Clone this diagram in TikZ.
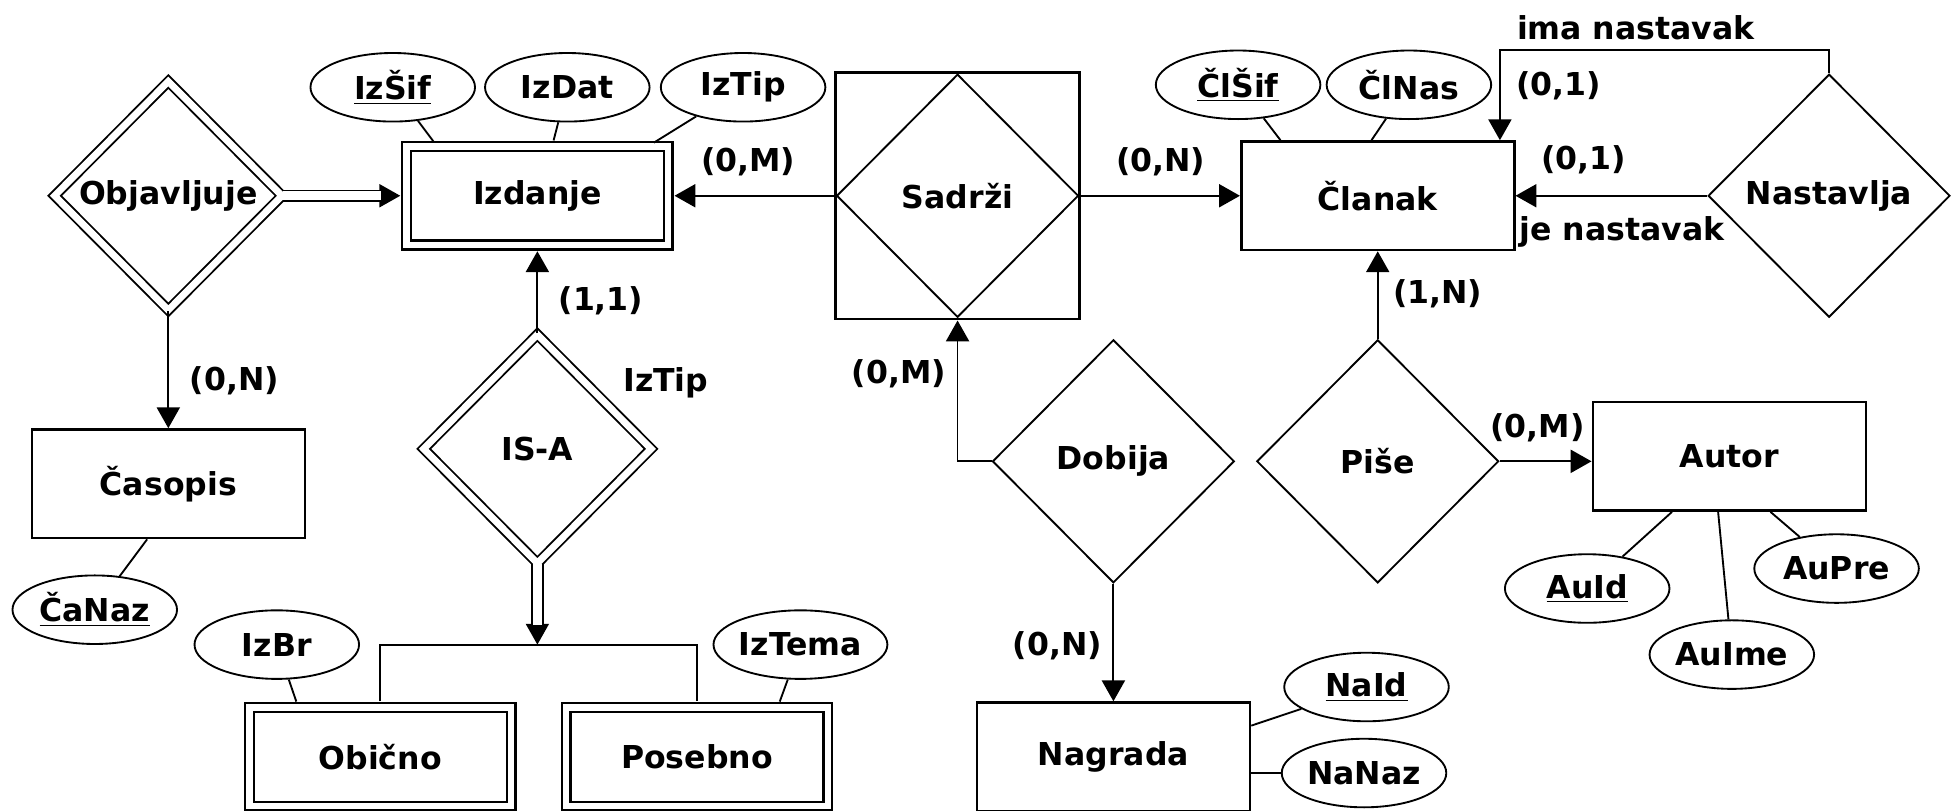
\documentclass[tikz,border=0pt]{standalone}
\usepackage{fontspec}
\setmainfont{DejaVu Sans}
\usetikzlibrary{arrows.meta, shapes.geometric}

\begin{document}
\begin{tikzpicture}[x=0.02cm, y=-0.02cm]
	\tikzstyle{every node} = [font=\bfseries\fontsize{14.4}{17}\selectfont]
	\tikzstyle{Entity} = [rectangle, minimum width=4.38cm, minimum height=1.74cm, line width=1.2pt, draw=black]
	\tikzstyle{Weak} = [rectangle, minimum width=4.2cm, minimum height=1.58cm, line width=1.1pt, draw=black, double, double distance=0.1cm]
	\tikzstyle{Attr} = [ellipse, minimum width=2.64cm, minimum height=1.1cm, inner sep=0pt, line width=0.85pt, draw=black]
	\tikzstyle{Rel} = [diamond, minimum width=3.88cm, minimum height=3.9cm, inner sep=0pt, line width=0.85pt, draw=black]
	\tikzstyle{WeakRel} = [Rel, minimum width=3.66cm, minimum height=3.68cm, double, double distance=0.11cm]
	\tikzstyle{attrline} = [line width=0.85pt]
	\tikzstyle{arrow} = [line width=0.85pt, -{Triangle[length=9.5pt, width=10.5pt]}]
	\tikzstyle{dbl} = [line width=0.85pt, double, double distance=4pt]

	\useasboundingbox (0,0) rectangle (1568,650);

	% entitete i veze
	\node (obj) [WeakRel] at (135,157) {Objavljuje};
	\node (izd) [Weak] at (431,157) {Izdanje};
	\node (sadbox) [Entity, minimum width=3.92cm, minimum height=3.96cm] at (768,157) {};
	\node (sad) [Rel] at (768,157) {Sadrži};
	\node (cla) [Entity] at (1105,157) {Članak};
	\node (nas) [Rel] at (1467,157) {Nastavlja};
	\node (cas) [Entity] at (135,388) {Časopis};
	\node (isa) [WeakRel] at (431,360) {IS-A};
	\node (dob) [Rel] at (893,370) {Dobija};
	\node (pis) [Rel] at (1105,370) {Piše};
	\node (aut) [Entity] at (1387,366) {Autor};
	\node (obi) [Weak] at (305,607) {Obično};
	\node (pos) [Weak] at (559,607) {Posebno};
	\node (nag) [Entity] at (893,607) {Nagrada};

	% atributi
	\node (izsif) [Attr] at (315,70) {\underline{IzŠif}};
	\node (izdat) [Attr] at (455,70) {IzDat};
	\node (iztip) [Attr] at (596,70) {IzTip};
	\node (clsif) [Attr] at (993,68) {\underline{ČlŠif}};
	\node (clnas) [Attr] at (1130,68) {ČlNas};
	\node (canaz) [Attr] at (76,489) {\underline{ČaNaz}};
	\node (izbr) [Attr] at (222,517) {IzBr};
	\node (iztema) [Attr] at (642,517) {IzTema};
	\node (naid) [Attr] at (1096,551) {\underline{NaId}};
	\node (nanaz) [Attr] at (1094,620) {NaNaz};
	\node (auid) [Attr] at (1273,472) {\underline{AuId}};
	\node (aupre) [Attr] at (1473,456) {AuPre};
	\node (auime) [Attr] at (1389,525) {AuIme};

	\draw [attrline, shorten >=2.3pt] (izsif) -- (350,0 |- izd.north);
	\draw [attrline, shorten >=2.3pt] (izdat) -- (443,0 |- izd.north);
	\draw [attrline, shorten >=2.3pt] (iztip) -- (521,0 |- izd.north);
	\draw [attrline] (clsif) -- (1027,0 |- cla.north);
	\draw [attrline] (clnas) -- (1100,0 |- cla.north);
	\draw [attrline] (canaz) -- (118,0 |- cas.south);
	\draw [attrline, shorten >=2.3pt] (izbr) -- (239,0 |- obi.north);
	\draw [attrline, shorten >=2.3pt] (iztema) -- (624,0 |- pos.north);
	\draw [attrline] (naid) -- (nag.east |- 0,582);
	\draw [attrline] (nanaz) -- (nag.east |- 0,620);
	\draw [attrline] (auid) -- (1341,0 |- aut.south);
	\draw [attrline] (auime) -- (1378,0 |- aut.south);
	\draw [attrline] (aupre) -- (1420,0 |- aut.south);

	% veze
	\coordinate (k1) at (1203,40);
	\coordinate (k2) at (431,517);
	\draw [arrow, shorten >=2.3pt] (sad.west) -- (izd.east);
	\draw [arrow] (sad.east) -- (cla.west);
	\draw [arrow] (nas.west) -- (cla.east);
	\draw [arrow] (nas.north) |- (k1) -- (k1 |- cla.north);
	\draw [arrow] (pis.north) -- (cla.south);
	\draw [arrow] (pis.east) -- (pis.east -| aut.west);
	\draw [arrow] (dob.west) -| (sadbox.south);
	\draw [arrow] (dob.south) -- (nag.north);
	\draw [arrow, shorten >=2.3pt] (isa.north) -- (izd.south);
	\draw [arrow] (obj.south) -- (obj.south |- cas.north);
	\draw [arrow] (isa.south) -- (k2);
	\draw [dbl, shorten >=9pt] (isa.south) -- (k2);
	\draw [arrow, shorten >=2.3pt] (obj.east) -- (izd.west);
	\draw [dbl, shorten >=11pt] (obj.east) -- (izd.west);
	\draw [attrline, shorten <=2.3pt, shorten >=2.3pt] (obi.north) |- (k2) -| (pos.north);

	% kardinalnosti
	\node (c1) at (600,130) {(0,M)};
	\node (c2) at (931,130) {(0,N)};
	\node (c3) at (1250,69) {(0,1)};
	\node (c4) at (1270,128) {(0,1)};
	\node (r1) at (1312,22) {ima nastavak};
	\node (r2) at (1301,186) {je nastavak};
	\node (c5) at (1153,236) {(1,N)};
	\node (c6) at (1233,343) {(0,M)};
	\node (c7) at (721,300) {(0,M)};
	\node (c8) at (848,518) {(0,N)};
	\node (c9) at (482,241) {(1,1)};
	\node (d1) at (534,307) {IzTip};
	\node (c10) at (188,305) {(0,N)};
\end{tikzpicture}
\end{document}
